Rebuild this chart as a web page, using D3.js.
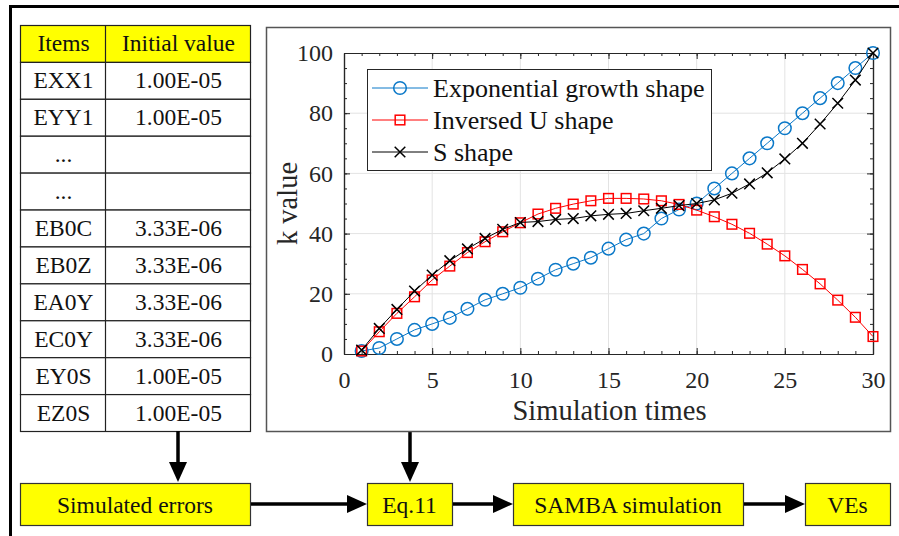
<!DOCTYPE html>
<html>
<head>
<meta charset="utf-8">
<script src="https://cdn.jsdelivr.net/npm/d3@7"></script>
<style>
  body { margin: 0; background: #fff; }
  svg text { font-family: "Liberation Serif", "Times New Roman", serif; }
</style>
</head>
<body>
<svg id="canvas" width="899" height="536"></svg>
<script>
// table contents
const tableHead = ["Items", "Initial value"];
const items = ["EXX1", "EYY1", "...", "...", "EB0C", "EB0Z", "EA0Y", "EC0Y", "EY0S", "EZ0S"];
const initVals = ["1.00E-05", "1.00E-05", "", "", "3.33E-06", "3.33E-06", "3.33E-06", "3.33E-06", "1.00E-05", "1.00E-05"];

// flow boxes along the bottom
const flowLabels = ["Simulated errors", "Eq.11", "SAMBA simulation", "VEs"];

// chart series (simulation times 1..30)
const simTimes = d3.range(1, 31);
const expGrowth = [1, 2, 5, 8, 10, 12, 15, 18, 20, 22, 25, 28, 30, 32, 35, 38, 40, 45, 48, 50,
                   55, 60, 65, 70, 75, 80, 85, 90, 95, 100];
const invU = [1, 7.4, 13.5, 19, 24.6, 29.2, 33.7, 37.3, 40.6, 43.6, 46.5, 48.4, 49.8, 50.9, 51.7,
              51.7, 51.5, 50.9, 49.7, 47.8, 45.6, 43.1, 40.1, 36.5, 32.6, 28.1, 23.3, 17.9, 12.2, 5.8];
const sShape = [1.3, 8.5, 14.8, 20.9, 26.2, 31, 34.9, 38.4, 41.4, 43.7, 44, 44.7, 45, 45.9, 46.4,
                46.7, 47.6, 48.4, 49.3, 50, 51.2, 53.4, 56.5, 60.2, 64.8, 70, 76.4, 83.3, 91, 100];
const seriesNames = ["Exponential growth shape", "Inversed U shape", "S shape"];
const xTicks = [0, 5, 10, 15, 20, 25, 30];
const yTicks = [0, 20, 40, 60, 80, 100];

const svg = d3.select("#canvas");
const ink = "#262626";

// ---- outer frame
svg.append("path")
  .attr("d", "M10.5,540 L10.5,6.5 L905,6.5")
  .attr("fill", "none").attr("stroke", "#000").attr("stroke-width", 3);

// ---- table
const tx0 = 20, tx1 = 250, tSplit = 105;
const rowY = d3.scaleLinear().domain([0, items.length + 1]).range([25, 431]);
const rows = [tableHead].concat(items.map((d, i) => [d, initVals[i]]));

const tbl = svg.append("g").attr("class", "table");
tbl.selectAll("rect.cell")
  .data(rows)
  .join("rect")
  .attr("x", tx0 + 0.5)
  .attr("y", (d, i) => rowY(i) + 0.5)
  .attr("width", tx1 - tx0)
  .attr("height", rowY(1) - rowY(0))
  .attr("fill", (d, i) => i === 0 ? "#ffff00" : "#fff")
  .attr("stroke", "#222")
  .attr("stroke-width", 1.2);
tbl.append("line")
  .attr("x1", tSplit + 0.5).attr("x2", tSplit + 0.5)
  .attr("y1", rowY(0)).attr("y2", rowY(rows.length))
  .attr("stroke", "#222").attr("stroke-width", 1.2);

rows.forEach((r, i) => {
  const cy = (rowY(i) + rowY(i + 1)) / 2;
  tbl.append("text")
    .attr("x", (tx0 + tSplit) / 2 + 1).attr("y", cy + 8)
    .attr("text-anchor", "middle").attr("font-size", 23.5).attr("fill", "#111")
    .text(r[0]);
  tbl.append("text")
    .attr("x", (tSplit + tx1) / 2 + 1).attr("y", cy + 8)
    .attr("text-anchor", "middle").attr("font-size", 23.5).attr("fill", "#111")
    .text(r[1]);
});

// ---- flow boxes
const flowX = [[20, 250], [367, 452], [513, 743], [805, 890]];
const fy0 = 483, fy1 = 525, fmid = (fy0 + fy1) / 2;
const flow = svg.append("g").attr("class", "flow");
flowLabels.forEach((lab, i) => {
  flow.append("rect")
    .attr("x", flowX[i][0] + 0.5).attr("y", fy0 + 0.5)
    .attr("width", flowX[i][1] - flowX[i][0]).attr("height", fy1 - fy0)
    .attr("fill", "#ffff00").attr("stroke", "#333").attr("stroke-width", 1.2);
  flow.append("text")
    .attr("x", (flowX[i][0] + flowX[i][1]) / 2).attr("y", fmid + 8.5)
    .attr("text-anchor", "middle").attr("font-size", 23.5).attr("fill", "#111")
    .text(lab);
});

function arrow(x1, y1, x2, y2) {
  const a = Math.atan2(y2 - y1, x2 - x1), L = 20, hw = 9;
  const bx = x2 - L * Math.cos(a), by = y2 - L * Math.sin(a);
  svg.append("line")
    .attr("x1", x1).attr("y1", y1).attr("x2", bx).attr("y2", by)
    .attr("stroke", "#000").attr("stroke-width", 3.5);
  svg.append("path")
    .attr("d", `M${x2},${y2} L${bx - hw * Math.sin(a)},${by + hw * Math.cos(a)} L${bx + hw * Math.sin(a)},${by - hw * Math.cos(a)} Z`)
    .attr("fill", "#000");
}
arrow(178, 431, 178, 482);
arrow(410, 431, 410, 482);
arrow(251, fmid, 367, fmid);
arrow(453, fmid, 513, fmid);
arrow(744, fmid, 805, fmid);

// ---- chart panel
svg.append("rect")
  .attr("x", 266.5).attr("y", 27.5).attr("width", 624).attr("height", 404)
  .attr("fill", "#fff").attr("stroke", "#555").attr("stroke-width", 1.5);

const xScale = d3.scaleLinear().domain([0, 30]).range([344, 873]);
const yScale = d3.scaleLinear().domain([0, 100]).range([354, 53]);
const px0 = xScale(0), px1 = xScale(30), py0 = yScale(0), py1 = yScale(100);

const chart = svg.append("g").attr("class", "chart");

// grid
chart.append("g").selectAll("line")
  .data(xTicks.slice(1, -1)).join("line")
  .attr("x1", d => xScale(d)).attr("x2", d => xScale(d))
  .attr("y1", py0).attr("y2", py1)
  .attr("stroke", "#e3e3e3").attr("stroke-width", 1);
chart.append("g").selectAll("line")
  .data(yTicks.slice(1, -1)).join("line")
  .attr("x1", px0).attr("x2", px1)
  .attr("y1", d => yScale(d)).attr("y2", d => yScale(d))
  .attr("stroke", "#e3e3e3").attr("stroke-width", 1);

function styleAxis(g) {
  g.select(".domain").attr("stroke", ink).attr("stroke-width", 1.2);
  g.selectAll(".tick line").attr("stroke", ink);
  g.selectAll(".tick text").attr("fill", ink).attr("font-size", 24);
}

// minor ticks
const xMinor = d3.range(0, 31, 1), yMinor = d3.range(0, 101, 5);
chart.append("g").attr("transform", `translate(0,${py0})`)
  .call(d3.axisBottom(xScale).tickValues(xMinor).tickSize(-3).tickSizeOuter(0).tickFormat(""))
  .call(styleAxis);
chart.append("g").attr("transform", `translate(0,${py1})`)
  .call(d3.axisTop(xScale).tickValues(xMinor).tickSize(-3).tickSizeOuter(0).tickFormat(""))
  .call(styleAxis);
chart.append("g").attr("transform", `translate(${px0},0)`)
  .call(d3.axisLeft(yScale).tickValues(yMinor).tickSize(-3).tickSizeOuter(0).tickFormat(""))
  .call(styleAxis);
chart.append("g").attr("transform", `translate(${px1},0)`)
  .call(d3.axisRight(yScale).tickValues(yMinor).tickSize(-3).tickSizeOuter(0).tickFormat(""))
  .call(styleAxis);

// major ticks with labels
chart.append("g").attr("transform", `translate(0,${py0})`)
  .call(d3.axisBottom(xScale).tickValues(xTicks).tickSize(-6).tickSizeOuter(0).tickPadding(17))
  .call(styleAxis);
chart.append("g").attr("transform", `translate(0,${py1})`)
  .call(d3.axisTop(xScale).tickValues(xTicks).tickSize(-6).tickSizeOuter(0).tickFormat(""))
  .call(styleAxis);
chart.append("g").attr("transform", `translate(${px0},0)`)
  .call(d3.axisLeft(yScale).tickValues(yTicks).tickSize(-6).tickSizeOuter(0).tickPadding(11))
  .call(styleAxis);
chart.append("g").attr("transform", `translate(${px1},0)`)
  .call(d3.axisRight(yScale).tickValues(yTicks).tickSize(-6).tickSizeOuter(0).tickFormat(""))
  .call(styleAxis);

// axis labels
chart.append("text")
  .attr("x", (px0 + px1) / 2 + 1).attr("y", 420)
  .attr("text-anchor", "middle").attr("font-size", 28.5).attr("fill", ink)
  .text("Simulation times");
chart.append("text")
  .attr("transform", `translate(297,${(py0 + py1) / 2}) rotate(-90)`)
  .attr("text-anchor", "middle").attr("font-size", 28.5).attr("fill", ink)
  .text("k value");

// series
const colors = ["#0a78c8", "#ff0000", "#000000"];
const seriesVals = [expGrowth, invU, sShape];
const line = d3.line().x(d => xScale(d[0])).y(d => yScale(d[1]));

function drawMarker(g, kind, color) {
  if (kind === 0) {
    g.append("circle").attr("r", 6.3).attr("fill", "none").attr("stroke", color).attr("stroke-width", 1.5);
  } else if (kind === 1) {
    g.append("rect").attr("x", -4.8).attr("y", -4.8).attr("width", 9.6).attr("height", 9.6)
      .attr("fill", "none").attr("stroke", color).attr("stroke-width", 1.5);
  } else {
    g.append("path").attr("d", "M-5.3,-5.3L5.3,5.3M-5.3,5.3L5.3,-5.3")
      .attr("stroke", color).attr("stroke-width", 1.5);
  }
}

seriesVals.forEach((vals, k) => {
  const pts = simTimes.map((t, i) => [t, vals[i]]);
  chart.append("path")
    .attr("d", line(pts))
    .attr("fill", "none").attr("stroke", colors[k]).attr("stroke-width", 1);
  chart.append("g").selectAll("g")
    .data(pts).join("g")
    .attr("transform", d => `translate(${xScale(d[0])},${yScale(d[1])})`)
    .each(function () { drawMarker(d3.select(this), k, colors[k]); });
});

// legend
const lg = chart.append("g").attr("class", "legend");
lg.append("rect")
  .attr("x", 367.5).attr("y", 69.5).attr("width", 344).attr("height", 101)
  .attr("fill", "#fff").attr("stroke", ink).attr("stroke-width", 1);
seriesNames.forEach((name, k) => {
  const ly = 88 + k * 32;
  lg.append("line").attr("x1", 372).attr("x2", 428).attr("y1", ly).attr("y2", ly)
    .attr("stroke", colors[k]).attr("stroke-width", 1);
  drawMarker(lg.append("g").attr("transform", `translate(400,${ly})`), k, colors[k]);
  lg.append("text").attr("x", 433).attr("y", ly + 9)
    .attr("font-size", 26).attr("fill", "#111")
    .text(name);
});
</script>
</body>
</html>
